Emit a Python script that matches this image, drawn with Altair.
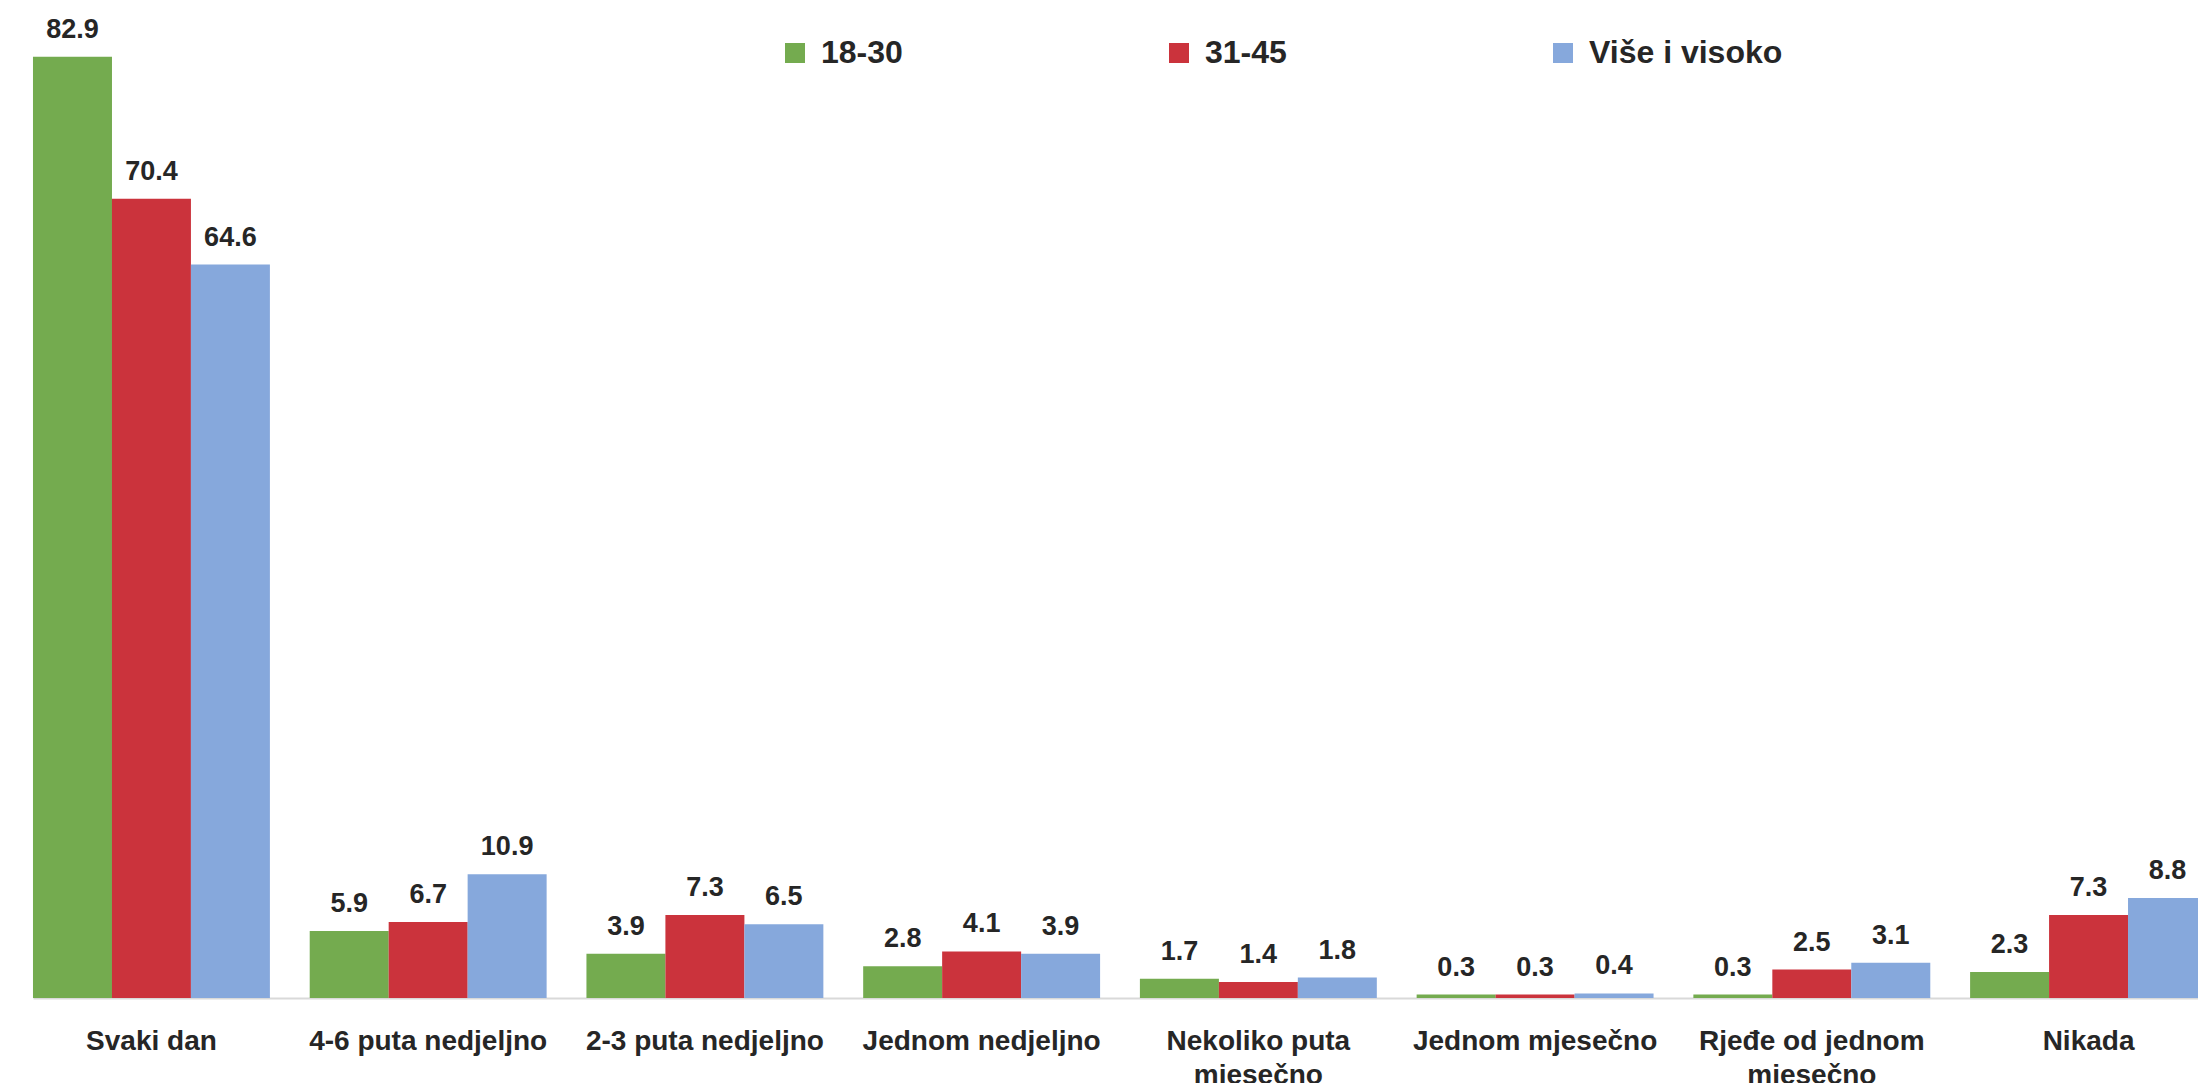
import altair as alt
import pandas as pd

categories = ["Svaki dan", "4-6 puta nedjeljno", "2-3 puta nedjeljno", "Jednom nedjeljno",
              "Nekoliko puta|mjesečno", "Jednom mjesečno", "Rjeđe od jednom|mjesečno", "Nikada"]
series = ["18-30", "31-45", "Više i visoko"]
v_18_30 = [82.9, 5.9, 3.9, 2.8, 1.7, 0.3, 0.3, 2.3]
v_31_45 = [70.4, 6.7, 7.3, 4.1, 1.4, 0.3, 2.5, 7.3]
v_vise = [64.6, 10.9, 6.5, 3.9, 1.8, 0.4, 3.1, 8.8]
colors = ["#74AB4F", "#CB333C", "#86A8DC"]

rows = []
for s, vals in zip(series, [v_18_30, v_31_45, v_vise]):
    for c, v in zip(categories, vals):
        rows.append({"cat": c, "grp": s, "val": v, "lbl": f"{v:.1f}"})
df = pd.DataFrame(rows)

FONT = "Liberation Sans Narrow, Liberation Sans, Arial, sans-serif"

x = alt.X("cat:N", sort=categories,
          scale=alt.Scale(paddingInner=0.144, paddingOuter=0, range=[25, 2199]),
          axis=alt.Axis(title=None, labelAngle=0, labelExpr="split(datum.label, '|')",
                        labelFont=FONT, labelFontSize=28, labelFontWeight="bold",
                        labelColor="#262626", labelPadding=29, labelLineHeight=34,
                        ticks=False, domainColor="#D9D9D9", domainWidth=2, labelLimit=400))
y = alt.Y("val:Q", scale=alt.Scale(domain=[0, 87.2], nice=False), axis=None)
xo = alt.XOffset("grp:N", sort=series, scale=alt.Scale(paddingInner=0, paddingOuter=0))
color = alt.Color("grp:N", sort=series, scale=alt.Scale(domain=series, range=colors),
                  legend=alt.Legend(title=None, orient="none", legendX=771, legendY=29,
                                    direction="horizontal", symbolType="square", symbolSize=400,
                                    symbolStrokeWidth=0, labelFont=FONT, labelFontSize=32,
                                    labelFontWeight="bold", labelColor="#262626", labelOffset=10,
                                    labelLimit=400, gridAlign="all", columnPadding=148,
                                    columns=3, padding=0))

base = alt.Chart(df).encode(x=x, xOffset=xo, y=y)
bars = base.mark_bar(size=79).encode(color=color)
labels = base.mark_text(baseline="alphabetic", dy=-19, font=FONT, fontSize=27,
                        fontWeight="bold", color="#262626").encode(text="lbl:N")

chart = (bars + labels).properties(
    width=2190, height=990,
    autosize=alt.AutoSizeParams(type="none"),
    padding={"left": 0, "top": 0, "right": 0, "bottom": 85},
).configure(background="white").configure_view(stroke=None)

chart.save("out.html", embed_options={"renderer": "svg", "actions": False})
